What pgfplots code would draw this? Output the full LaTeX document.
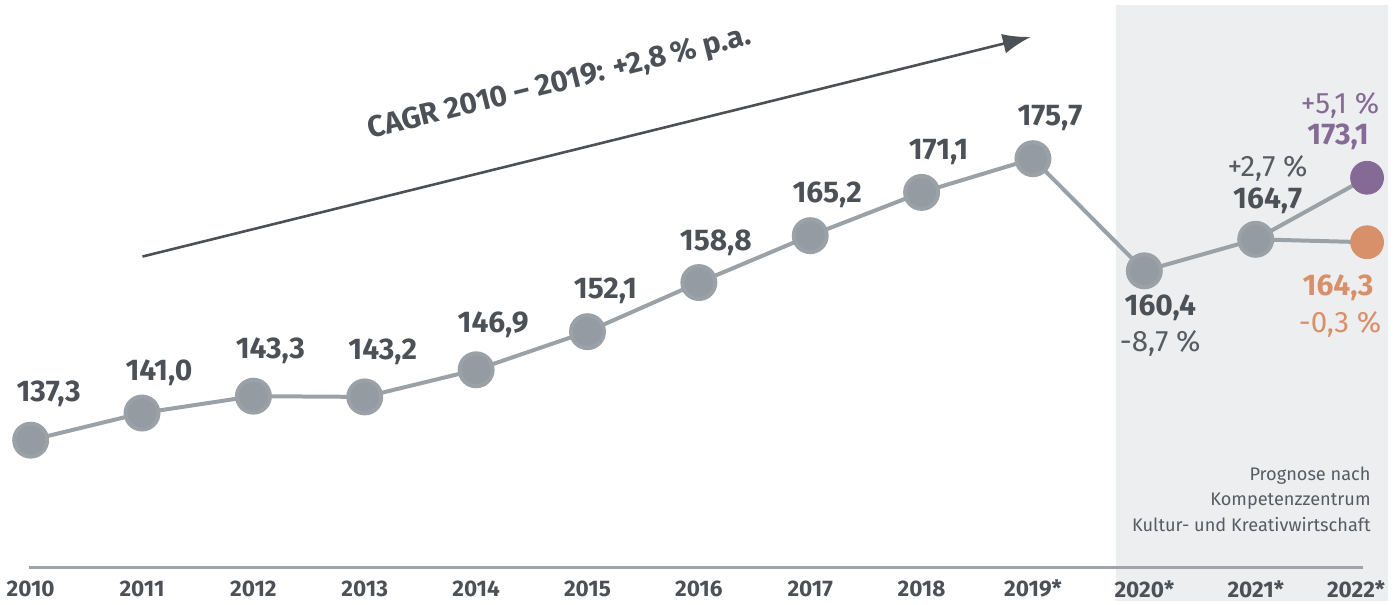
\documentclass[border=0pt]{standalone}
\usepackage{pgfplots}
\pgfplotsset{compat=1.18}
\usepackage{fontspec}
\setmainfont{Fira Sans}
\usetikzlibrary{arrows.meta}
\definecolor{darktxt}{HTML}{4B5157}
\definecolor{pcttxt}{HTML}{565C62}
\definecolor{mgrey}{HTML}{949BA2}
\definecolor{lgrey}{HTML}{9AA1A7}
\definecolor{purp}{HTML}{866A96}
\definecolor{oran}{HTML}{D8906A}
\definecolor{shadecol}{HTML}{EDEEF0}
\definecolor{axgrey}{HTML}{9EA4AA}
\newcommand{\lab}{\bfseries\fontsize{15}{18}\selectfont}
\newcommand{\pct}{\fontsize{14.8}{17}\selectfont}
\begin{document}
\begin{tikzpicture}
\begin{axis}[
  set layers,
  scale only axis, width=698.5pt, height=301pt,
  xmin=2009.749, xmax=2022.269, ymin=115.38, ymax=197.35,
  clip=false,
  axis line style={draw=none},
  major tick length=0pt, tick style={draw=none},
  ytick=\empty,
  xtick={2010,2011,2012,2013,2014,2015,2016,2017,2018,2019,2020,2021},
  xticklabels={2010,2011,2012,2013,2014,2015,2016,2017,2018,2019*,2020*,2021*},
  extra x ticks={2022},
  extra x tick labels={2022*},
  extra x tick style={xticklabel style={xshift=-5.5pt}},
  xticklabel style={anchor=center, yshift=6pt, text=darktxt, font=\bfseries\fontsize{11.3}{14}\selectfont},
]
\path (rel axis cs:0,0) rectangle (rel axis cs:1,1);
% forecast shading
\begin{pgfonlayer}{axis background}
\fill[shadecol] (axis cs:2019.75,115.38) rectangle (axis cs:2022.189,196.67);
\end{pgfonlayer}
% baseline
\draw[axgrey, line width=1.5pt] (axis cs:2009.982,119.9) -- (axis cs:2021.964,119.9);
% CAGR arrow
\draw[darktxt, line width=1.3pt, -{Latex[length=14pt,width=10pt]}] (axis cs:2011.004,162.35) -- (axis cs:2018.98,192.31);
\node[rotate=13.9, text=darktxt, font=\bfseries\fontsize{15}{18}\selectfont, inner sep=0pt] at (axis cs:2014.75,185.9) {CAGR 2010 – 2019: +2,8\,\% p.a.};
% branch lines
\addplot[lgrey, line width=2pt] coordinates {(2021,164.7) (2022,173.1)};
\addplot[lgrey, line width=2pt] coordinates {(2021,164.7) (2022,164.3)};
% main series
\addplot[lgrey, line width=2pt, mark=*, mark size=8.25pt, mark options={fill=mgrey, draw=none}] coordinates {
(2010,137.3) (2011,141.0) (2012,143.3) (2013,143.2) (2014,146.9) (2015,152.1) (2016,158.8) (2017,165.2) (2018,171.1) (2019,175.7) (2020,160.4) (2021,164.7)};
\addplot[purp, only marks, mark=*, mark size=8.25pt, mark options={fill=purp, draw=none}] coordinates {(2022,173.1)};
\addplot[oran, only marks, mark=*, mark size=8.25pt, mark options={fill=oran, draw=none}] coordinates {(2022,164.3)};
% value labels
\begin{scope}[every node/.style={text=darktxt, font=\lab}]
\node[xshift=9pt, yshift=23pt] at (axis cs:2010,137.3) {137,3};
\node[xshift=8.5pt, yshift=20pt] at (axis cs:2011,141.0) {141,0};
\node[xshift=8.5pt, yshift=22.5pt] at (axis cs:2012,143.3) {143,3};
\node[xshift=9pt, yshift=22.5pt] at (axis cs:2013,143.2) {143,2};
\node[xshift=8.5pt, yshift=22.5pt] at (axis cs:2014,146.9) {146,9};
\node[xshift=9pt, yshift=20.5pt] at (axis cs:2015,152.1) {152,1};
\node[xshift=8.5pt, yshift=20pt] at (axis cs:2016,158.8) {158,8};
\node[xshift=8.5pt, yshift=20.5pt] at (axis cs:2017,165.2) {165,2};
\node[xshift=8.5pt, yshift=20pt] at (axis cs:2018,171.1) {171,1};
\node[xshift=8.5pt, yshift=20.5pt] at (axis cs:2019,175.7) {175,7};
\node[xshift=8pt, yshift=-18.5pt] at (axis cs:2020,160.4) {160,4};
\node[xshift=6pt, yshift=19.5pt] at (axis cs:2021,164.7) {164,7};
\node[xshift=-14.5pt, yshift=20.5pt, text=purp] at (axis cs:2022,173.1) {173,1};
\node[xshift=-14.5pt, yshift=-23pt, text=oran] at (axis cs:2022,164.3) {164,3};
\end{scope}
\begin{scope}[every node/.style={text=pcttxt, font=\pct}]
\node[xshift=8pt, yshift=-36.5pt] at (axis cs:2020,160.4) {-8,7 \%};
\node[xshift=6pt, yshift=35.5pt] at (axis cs:2021,164.7) {+2,7 \%};
\node[xshift=-13.5pt, yshift=36pt, text=purp] at (axis cs:2022,173.1) {+5,1 \%};
\node[xshift=-13.5pt, yshift=-41pt, text=oran] at (axis cs:2022,164.3) {-0,3 \%};
\end{scope}
% source note
\node[anchor=east, align=right, text=pcttxt, font=\fontsize{9.1}{12.75}\selectfont, inner sep=0pt] at (axis cs:2022.035,129.27) {Prognose nach\\Kompetenzzentrum\\Kultur- und Kreativwirtschaft};
\end{axis}
\end{tikzpicture}
\end{document}
